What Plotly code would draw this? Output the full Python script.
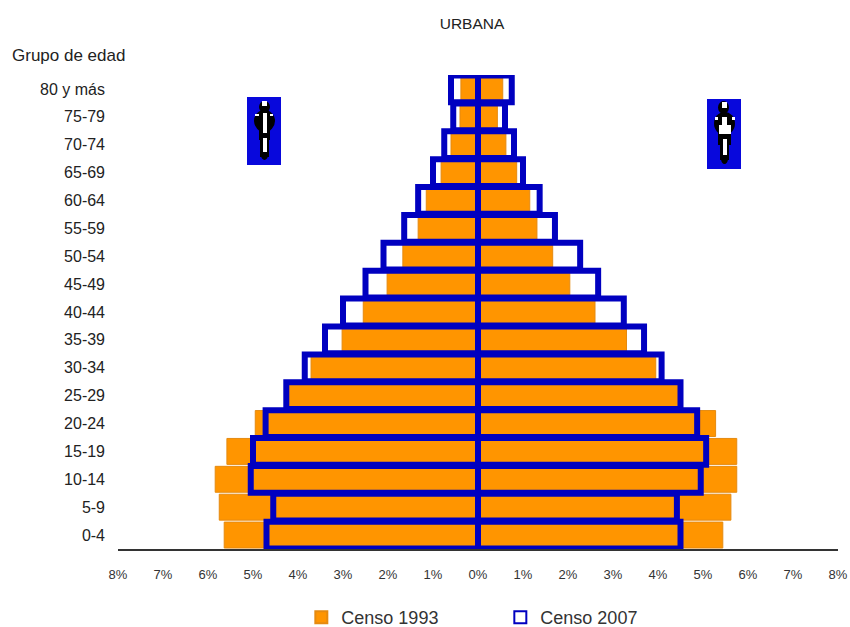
import plotly.graph_objects as go

age_groups = ["0-4", "5-9", "10-14", "15-19", "20-24", "25-29", "30-34", "35-39", "40-44",
              "45-49", "50-54", "55-59", "60-64", "65-69", "70-74", "75-79", "80 y más"]
men_1993 = [5.64, 5.75, 5.84, 5.58, 4.95, 4.22, 3.71, 3.02, 2.55, 2.02, 1.67, 1.33, 1.15, 0.82, 0.60, 0.40, 0.38]
men_2007 = [4.70, 4.55, 5.05, 5.00, 4.72, 4.26, 3.85, 3.40, 3.00, 2.50, 2.10, 1.64, 1.33, 1.00, 0.75, 0.55, 0.60]
women_1993 = [5.44, 5.62, 5.75, 5.75, 5.28, 4.50, 3.95, 3.30, 2.60, 2.04, 1.66, 1.31, 1.15, 0.86, 0.62, 0.43, 0.55]
women_2007 = [4.50, 4.42, 4.95, 5.07, 4.87, 4.50, 4.08, 3.69, 3.24, 2.67, 2.27, 1.71, 1.37, 1.00, 0.80, 0.60, 0.75]
tick_values = [-8, -7, -6, -5, -4, -3, -2, -1, 0, 1, 2, 3, 4, 5, 6, 7, 8]
tick_labels = ["8%", "7%", "6%", "5%", "4%", "3%", "2%", "1%", "0%", "1%", "2%", "3%", "4%", "5%", "6%", "7%", "8%"]

ORANGE = "#FF9500"
BLUE = "#0000C0"
FONT = "Liberation Sans"

fig = go.Figure()
fig.add_bar(y=age_groups, x=[-v for v in men_1993], orientation="h", name="Censo 1993",
            marker=dict(color=ORANGE, line=dict(color="#E58A10", width=1)), width=0.93, legendgroup="a")
fig.add_bar(y=age_groups, x=women_1993, orientation="h", name="Censo 1993", showlegend=False,
            marker=dict(color=ORANGE, line=dict(color="#E58A10", width=1)), width=0.93, legendgroup="a")
fig.add_bar(y=age_groups, x=[-v for v in men_2007], orientation="h", name="Censo 2007",
            marker=dict(color="rgba(255,255,255,0)", line=dict(color=BLUE, width=6)), width=0.96, legendgroup="b")
fig.add_bar(y=age_groups, x=women_2007, orientation="h", name="Censo 2007", showlegend=False,
            marker=dict(color="rgba(255,255,255,0)", line=dict(color=BLUE, width=6)), width=0.96, legendgroup="b")


# decorative figure icons and labels, in pixel positions of the page
def rx(p):
    return (p - 118) / 720


def ry(p):
    return (549 - p) / 474


def rect(x0, y0, x1, y1, color):
    return dict(type="rect", xref="paper", yref="paper", x0=rx(x0), x1=rx(x1), y0=ry(y1), y1=ry(y0),
                fillcolor=color, line=dict(width=0), layer="above")


def oval(x0, y0, x1, y1, color):
    return dict(type="circle", xref="paper", yref="paper", x0=rx(x0), x1=rx(x1), y0=ry(y1), y1=ry(y0),
                fillcolor=color, line=dict(width=0), layer="above")


shapes = [
    rect(247, 97, 281, 165, "#0808DC"),
    oval(259, 101, 270, 113, "black"), rect(261, 113, 268, 118, "black"),
    oval(254, 110, 275, 132, "black"), rect(259, 130, 270, 140, "black"),
    rect(260, 140, 269, 157, "black"),
    oval(261, 150, 268, 160, "black"),
    rect(262, 101, 267, 106, "white"), rect(263, 113, 267, 133, "white"),
    rect(255, 114, 259, 116, "white"), rect(270, 114, 273, 116, "white"),
    rect(263, 138, 267, 152, "white"),
    rect(707, 99, 741, 169, "#0808DC"),
    oval(718, 101, 729, 114, "black"), oval(714, 112, 735, 135, "black"),
    rect(718, 130, 731, 145, "black"), rect(720, 145, 729, 160, "black"),
    oval(721, 153, 728, 164, "black"),
    rect(722, 102, 727, 108, "white"), rect(722, 117, 727, 125, "white"),
    rect(719, 125, 731, 134, "white"), rect(723, 139, 727, 155, "white"),
    rect(715, 117, 718, 120, "white"), rect(732, 117, 735, 120, "white"),
]

fig.update_layout(
    width=850, height=627,
    margin=dict(l=118, r=12, t=75, b=78),
    autosize=False,
    paper_bgcolor="white", plot_bgcolor="white",
    barmode="overlay",
    font=dict(family=FONT, color="#2a2a2a", size=12),
    showlegend=True,
    legend=dict(orientation="h", xref="container", yref="container", x=0.3545, y=0.015,
                xanchor="left", yanchor="middle", font=dict(size=18, color="#333333"),
                entrywidth=154, entrywidthmode="pixels", itemsizing="constant", tracegroupgap=0),
    title=dict(text="URBANA", x=472 / 850, y=1 - 24 / 627, xref="container", yref="container",
               xanchor="center", yanchor="middle", font=dict(size=15.5, color="#222222")),
    xaxis=dict(range=[-8, 8], tickmode="array", tickvals=tick_values, ticktext=tick_labels,
               showgrid=False, zeroline=False, showline=True, linecolor="#333333", linewidth=2,
               ticks="", tickfont=dict(size=13, color="#333333"), ticklabelstandoff=12, automargin=False),
    yaxis=dict(type="category", categoryorder="array", categoryarray=age_groups,
               range=[-0.5, 16.5], showgrid=False, zeroline=False, showline=False, ticks="",
               tickfont=dict(size=16, color="#222222"), ticklabelstandoff=12, automargin=False),
    annotations=[dict(text="Grupo de edad", x=rx(10), y=ry(55), xref="paper", yref="paper",
                      xanchor="left", yanchor="middle", showarrow=False,
                      font=dict(size=17, color="#222222"))],
    shapes=shapes,
)

fig.write_html("out.html", post_script="document.body.style.margin='0';", config={"displayModeBar": False})
